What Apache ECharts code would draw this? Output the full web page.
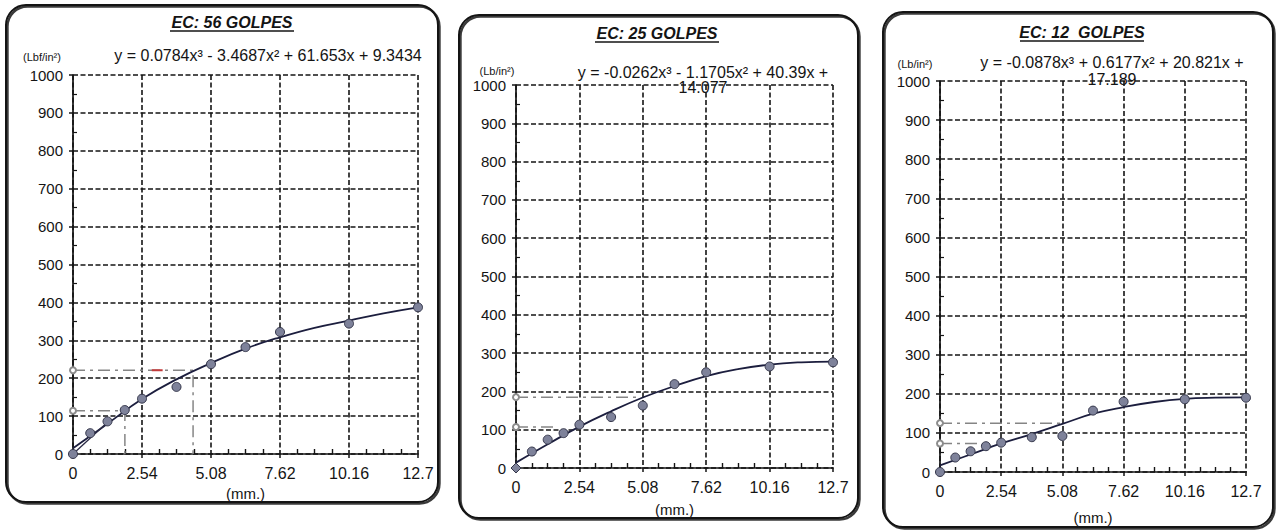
<!DOCTYPE html>
<html>
<head>
<meta charset="utf-8">
<script src="https://cdn.jsdelivr.net/npm/echarts@6/dist/echarts.min.js"></script>
<style>
  html, body { margin: 0; padding: 0; background: #ffffff; }
  #chart { width: 1279px; height: 530px; }
</style>
</head>
<body>
<div id="chart"></div>
<script>
// CBR load-penetration readings (penetration in mm, load in lb/in²)
const penetration = [0, 0.635, 1.27, 1.905, 2.54, 3.81, 5.08, 6.35, 7.62, 10.16, 12.7];
const load56 = [0, 55, 86, 116, 146, 177, 237, 282, 322, 344, 387];
const load25 = [0, 43, 74, 91, 113, 133, 163, 219, 250, 265, 276];
const load12 = [0, 37, 53, 66, 75, 89, 92, 157, 180, 186, 190];

// Fitted trend curves, sampled along the penetration axis
const curveX = [0, 1.27, 2.54, 3.81, 5.08, 6.35, 7.62, 8.89, 10.16, 11.43, 12.7];
const trend56 = [15, 80, 145, 197, 240, 278, 308, 333, 352, 371, 387];
const trend25 = [14, 62, 108, 148, 184, 214, 240, 258, 270, 276, 278];
const trend12 = [17, 45, 73, 97, 123, 149, 166, 179, 187, 190, 191];

// Corrected origin segment for 56 blows
const originFixX = [0, 1.27];
const originFixY = [0, 84];

// Reading lines (load level and penetration where the line stops)
const refLoad56 = [221, 114];
const refReach56 = [4.42, 1.91];
const refLoad25 = [185, 107];
const refReach25 = [4.97, 1.5];
const refLoad12 = [125, 73];
const refReach12 = [4.98, 1.78];

// Texts
const titles = ['EC: 56 GOLPES', 'EC: 25 GOLPES', 'EC: 12  GOLPES'];
const equations = [
  'y = 0.0784x³ - 3.4687x² + 61.653x + 9.3434',
  'y = -0.0262x³ - 1.1705x² + 40.39x +\n14.077',
  'y = -0.0878x³ + 0.6177x² + 20.821x +\n17.189'
];
const unitLabels = ['(Lbf/in²)', '(Lb/in²)', '(Lb/in²)'];
const xTickLabels = ['0', '2.54', '5.08', '7.62', '10.16', '12.7'];
const yTickLabels = ['0', '100', '200', '300', '400', '500', '600', '700', '800', '900', '1000'];
const xName = '(mm.)';

const loads = [load56, load25, load12];
const trends = [trend56, trend25, trend12];
const refLoads = [refLoad56, refLoad25, refLoad12];
const refReaches = [refReach56, refReach25, refReach12];

// Panel layout
const layout = [
  { grid: { left: 73, top: 75, width: 345, height: 379 }, frame: [6, 5, 432, 497],
    title: [232, 22], eq: [268, 55, 16], unit: [42, 57], nameGap: 28 },
  { grid: { left: 516, top: 85, width: 317, height: 383 }, frame: [459, 15, 399, 503],
    title: [657, 33], eq: [703, 80, 15], unit: [497, 71], nameGap: 34 },
  { grid: { left: 940, top: 81, width: 306, height: 391 }, frame: [883, 12, 390, 515],
    title: [1082, 32], eq: [1112, 71, 17], unit: [915, 64], nameGap: 38 }
];

const FONT = '"Liberation Sans", Arial, sans-serif';
const INK = '#141414';
const GRID_LINE = { color: '#151515', width: 1.6, type: [5, 2.5] };

const grids = [], xAxes = [], yAxes = [], series = [], graphics = [];

layout.forEach((p, i) => {
  grids.push(Object.assign({ containLabel: false }, p.grid));

  // main x axis: labels, grid, outward major ticks
  xAxes.push({
    gridIndex: i, type: 'value', position: 'bottom', min: 0, max: 12.7, interval: 2.54,
    axisLine: { show: true, onZero: false, lineStyle: { color: INK, width: 1.7 } },
    axisTick: { show: true, inside: false, length: 4, lineStyle: { color: INK, width: 1.5 } },
    axisLabel: { fontSize: 16, color: INK, fontFamily: FONT, margin: 11,
      formatter: v => xTickLabels[Math.round(v / 2.54)] },
    splitLine: { show: true, lineStyle: GRID_LINE },
    name: xName, nameLocation: 'middle', nameGap: p.nameGap,
    nameTextStyle: { fontSize: 15, color: INK, fontFamily: FONT }
  });
  // companion x axis: inward minor ticks
  xAxes.push({
    gridIndex: i, type: 'value', position: 'bottom', min: 0, max: 12.7, interval: 2.54,
    axisLine: { show: false, onZero: false }, axisLabel: { show: false },
    axisTick: { show: false, inside: true }, splitLine: { show: false },
    minorTick: { show: true, splitNumber: 4, length: 5, lineStyle: { color: INK, width: 1.4 } }
  });

  yAxes.push({
    gridIndex: i, type: 'value', position: 'left', min: 0, max: 1000, interval: 100,
    axisLine: { show: true, onZero: false, lineStyle: { color: INK, width: 1.7 } },
    axisTick: { show: true, inside: false, length: 4, lineStyle: { color: INK, width: 1.5 } },
    axisLabel: { fontSize: 15, color: INK, fontFamily: FONT, margin: 10,
      formatter: v => yTickLabels[Math.round(v / 100)] },
    splitLine: { show: true, lineStyle: GRID_LINE }
  });
  yAxes.push({
    gridIndex: i, type: 'value', position: 'left', min: 0, max: 1000, interval: 100,
    axisLine: { show: false, onZero: false }, axisLabel: { show: false },
    axisTick: { show: false, inside: true }, splitLine: { show: false },
    minorTick: { show: true, splitNumber: 2, length: 4, lineStyle: { color: INK, width: 1.2 } }
  });

  const xi = 2 * i, yi = 2 * i;

  // reading lines with open circle where they leave the load axis
  refLoads[i].forEach((lv, k) => {
    const reach = refReaches[i][k];
    const pts = [[0, lv], [reach, lv]];
    if (i === 0) pts.push([reach, 0]);
    series.push({
      type: 'line', xAxisIndex: xi, yAxisIndex: yi, data: pts, z: 3,
      symbol: (v, prm) => prm.dataIndex === 0 ? 'emptyCircle' : 'none',
      symbolSize: 6, showSymbol: true,
      itemStyle: { color: '#8c8c8c', borderColor: '#8c8c8c' },
      lineStyle: { color: '#858585', width: 1.5, type: [12, 5, 3, 5] },
      silent: true
    });
  });

  // trend curve
  series.push({
    type: 'line', xAxisIndex: xi, yAxisIndex: yi, smooth: 0.45, showSymbol: false, z: 4,
    data: curveX.map((x, k) => [x, trends[i][k]]),
    lineStyle: { color: '#1c1e3e', width: 1.8 }
  });

  // measured points
  series.push({
    type: 'scatter', xAxisIndex: xi, yAxisIndex: yi, z: 6,
    data: penetration.map((x, k) => [x, loads[i][k]]),
    symbol: (v, prm) => (i === 1 && prm.dataIndex === 0) ? 'diamond' : 'circle',
    symbolSize: (v, prm) => (i === 1 && prm.dataIndex === 0) ? 10 : 9,
    itemStyle: { color: '#7e829a', borderColor: '#34364a', borderWidth: 1, opacity: 1 }
  });

  // panel frame
  const [fx, fy, fw, fh] = p.frame;
  graphics.push({
    type: 'rect', z: 0, silent: true,
    shape: { x: fx + 1.5, y: fy + 1.5, width: fw, height: fh, r: 20 },
    style: { fill: 'none', stroke: '#3a3a3a', lineWidth: 2.4 }
  });
  graphics.push({
    type: 'rect', z: 1, silent: true,
    shape: { x: fx, y: fy, width: fw, height: fh, r: 20 },
    style: { fill: 'none', stroke: '#141414', lineWidth: 2 }
  });

  // title with underline
  graphics.push({
    type: 'text', z: 10, x: p.title[0], y: p.title[1],
    style: { text: titles[i], align: 'center', verticalAlign: 'middle',
      font: 'italic bold 16px ' + FONT, fill: INK }
  });
  graphics.push({
    type: 'line', z: 10, silent: true,
    shape: { x1: p.title[0] - 62, y1: p.title[1] + 9, x2: p.title[0] + 62, y2: p.title[1] + 9 },
    style: { stroke: INK, lineWidth: 1.3 }
  });

  // trend equation
  graphics.push({
    type: 'text', z: 10, x: p.eq[0], y: p.eq[1],
    style: { text: equations[i], align: 'center', verticalAlign: 'middle',
      font: '16px ' + FONT, lineHeight: p.eq[2], fill: INK }
  });

  // load unit
  graphics.push({
    type: 'text', z: 10, x: p.unit[0], y: p.unit[1],
    style: { text: unitLabels[i], align: 'center', verticalAlign: 'middle',
      font: '11px ' + FONT, fill: INK }
  });
});

// corrected origin segment (56 blows)
series.push({
  type: 'line', xAxisIndex: 0, yAxisIndex: 0, showSymbol: false, z: 4,
  data: originFixX.map((x, k) => [x, originFixY[k]]),
  lineStyle: { color: '#2a2a44', width: 1.3 }
});
// red mark on the upper reading line (56 blows)
series.push({
  type: 'line', xAxisIndex: 0, yAxisIndex: 0, showSymbol: false, z: 4,
  data: [[2.9, refLoad56[0]], [3.3, refLoad56[0]]],
  lineStyle: { color: '#c23a3a', width: 2 }
});

const chart = echarts.init(document.getElementById('chart'), null, { renderer: 'svg' });
chart.setOption({
  animation: false,
  backgroundColor: '#ffffff',
  grid: grids,
  xAxis: xAxes,
  yAxis: yAxes,
  series: series,
  graphic: graphics
});
</script>
</body>
</html>
